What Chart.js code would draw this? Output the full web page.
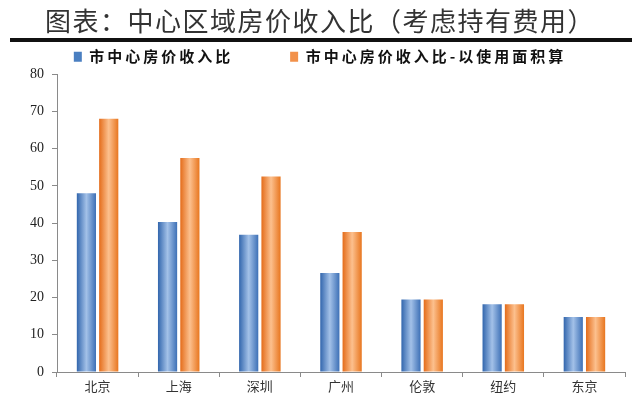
<!DOCTYPE html>
<html>
<head>
<meta charset="utf-8">
<script src="https://cdn.jsdelivr.net/npm/chart.js@4/dist/chart.umd.min.js"></script>
<style>
    html, body { margin: 0; padding: 0; background: #fff; }
    #wrap { width: 640px; height: 398px; }
</style>
</head>
<body>
<div id="wrap"><canvas id="chart"></canvas></div>
<script>
const titleText = '图表：中心区域房价收入比（考虑持有费用）';
const cities = ['北京', '上海', '深圳', '广州', '伦敦', '纽约', '东京'];
const seriesNames = ['市中心房价收入比', '市中心房价收入比-以使用面积算'];
const ratio = [48, 40.3, 36.9, 26.6, 19.5, 18.2, 14.8];
const ratioUsable = [68, 57.5, 52.5, 37.6, 19.5, 18.2, 14.8];
const yMin = 0;
const yMax = 80;
const yStep = 10;

const CAT_PCT = 0.55;
const BAR_PCT = 0.86;

const blueStops = ['#3266ad', '#a3c1e8', '#3d70b6'];
const orangeStops = ['#e46c1a', '#fcc08e', '#e8761f'];

// cylinder look: horizontal gradient across each bar
function barGradient(ctx, stops) {
    const chart = ctx.chart;
    const x = chart.scales.x;
    if (!x || ctx.type !== 'data' || !x.width) return stops[0];
    const catW = x.width / cities.length;
    const barW = catW * CAT_PCT / 2 * BAR_PCT;
    const center = x.getPixelForValue(ctx.dataIndex) + (ctx.datasetIndex - 0.5) * catW * CAT_PCT / 2;
    const g = chart.ctx.createLinearGradient(center - barW / 2, 0, center + barW / 2, 0);
    g.addColorStop(0, stops[0]);
    g.addColorStop(0.5, stops[1]);
    g.addColorStop(1, stops[2]);
    return g;
}

// wider letter spacing for title and legend, like the original
function withSpacing(chart, box, spacing) {
    ['fit', 'draw'].forEach(fn => {
        const orig = box[fn];
        box[fn] = function (...args) {
            const c = chart.ctx;
            const prev = c.letterSpacing;
            c.letterSpacing = spacing;
            const r = orig.apply(this, args);
            c.letterSpacing = prev;
            return r;
        };
    });
}

const spacingPlugin = {
    id: 'spacing',
    afterInit(chart) {
        if (chart.legend) withSpacing(chart, chart.legend, '3px');
        if (chart.titleBlock) withSpacing(chart, chart.titleBlock, '1.5px');
    }
};

const titleRule = {
    id: 'titleRule',
    afterDraw(chart) {
        const c = chart.ctx;
        c.save();
        c.fillStyle = '#111';
        c.fillRect(10, 38, 622, 4);
        c.restore();
    }
};

new Chart(document.getElementById('chart'), {
    type: 'bar',
    data: {
        labels: cities,
        datasets: [{
            label: seriesNames[0],
            data: ratio,
            backgroundColor: ctx => barGradient(ctx, blueStops),
            categoryPercentage: CAT_PCT,
            barPercentage: BAR_PCT
        }, {
            label: seriesNames[1],
            data: ratioUsable,
            backgroundColor: ctx => barGradient(ctx, orangeStops),
            categoryPercentage: CAT_PCT,
            barPercentage: BAR_PCT
        }]
    },
    options: {
        responsive: true,
        maintainAspectRatio: false,
        animation: false,
        layout: {
            padding: { left: 15, right: 15, top: 0, bottom: 0 }
        },
        plugins: {
            title: {
                display: true,
                text: titleText,
                color: '#333',
                font: { family: '"Noto Sans CJK SC"', size: 26, weight: 'normal' },
                padding: { top: 6, bottom: 4 }
            },
            legend: {
                display: true,
                labels: {
                    color: '#111',
                    font: { family: '"Noto Sans CJK SC"', size: 15, weight: 'bold' },
                    boxWidth: 8,
                    boxHeight: 10,
                    padding: 8,
                    generateLabels: chart => {
                        const items = Chart.defaults.plugins.legend.labels.generateLabels(chart);
                        items[0].text += '\u3000\u3000  ';
                        items[0].fillStyle = '#4a7fc1';
                        items[1].fillStyle = '#f2914a';
                        items.forEach(item => { item.strokeStyle = 'transparent'; item.lineWidth = 0; });
                        return items;
                    }
                }
            },
            tooltip: { enabled: false }
        },
        scales: {
            x: {
                afterFit: scale => { scale.height = 26; },
                border: { color: '#8a8a8a' },
                grid: {
                    display: true,
                    drawOnChartArea: false,
                    color: '#8a8a8a',
                    tickLength: 5,
                    offset: true
                },
                ticks: {
                    color: '#333',
                    padding: 1,
                    font: { family: '"Noto Sans CJK SC"', size: 13 }
                }
            },
            y: {
                min: yMin,
                max: yMax,
                afterFit: scale => { scale.width = 42; },
                border: { color: '#8a8a8a' },
                grid: {
                    display: true,
                    drawOnChartArea: false,
                    color: '#8a8a8a',
                    tickLength: 5
                },
                ticks: {
                    stepSize: yStep,
                    color: '#222',
                    padding: 8,
                    font: { family: '"Liberation Serif"', size: 14 }
                }
            }
        }
    },
    plugins: [spacingPlugin, titleRule]
});
</script>
</body>
</html>
